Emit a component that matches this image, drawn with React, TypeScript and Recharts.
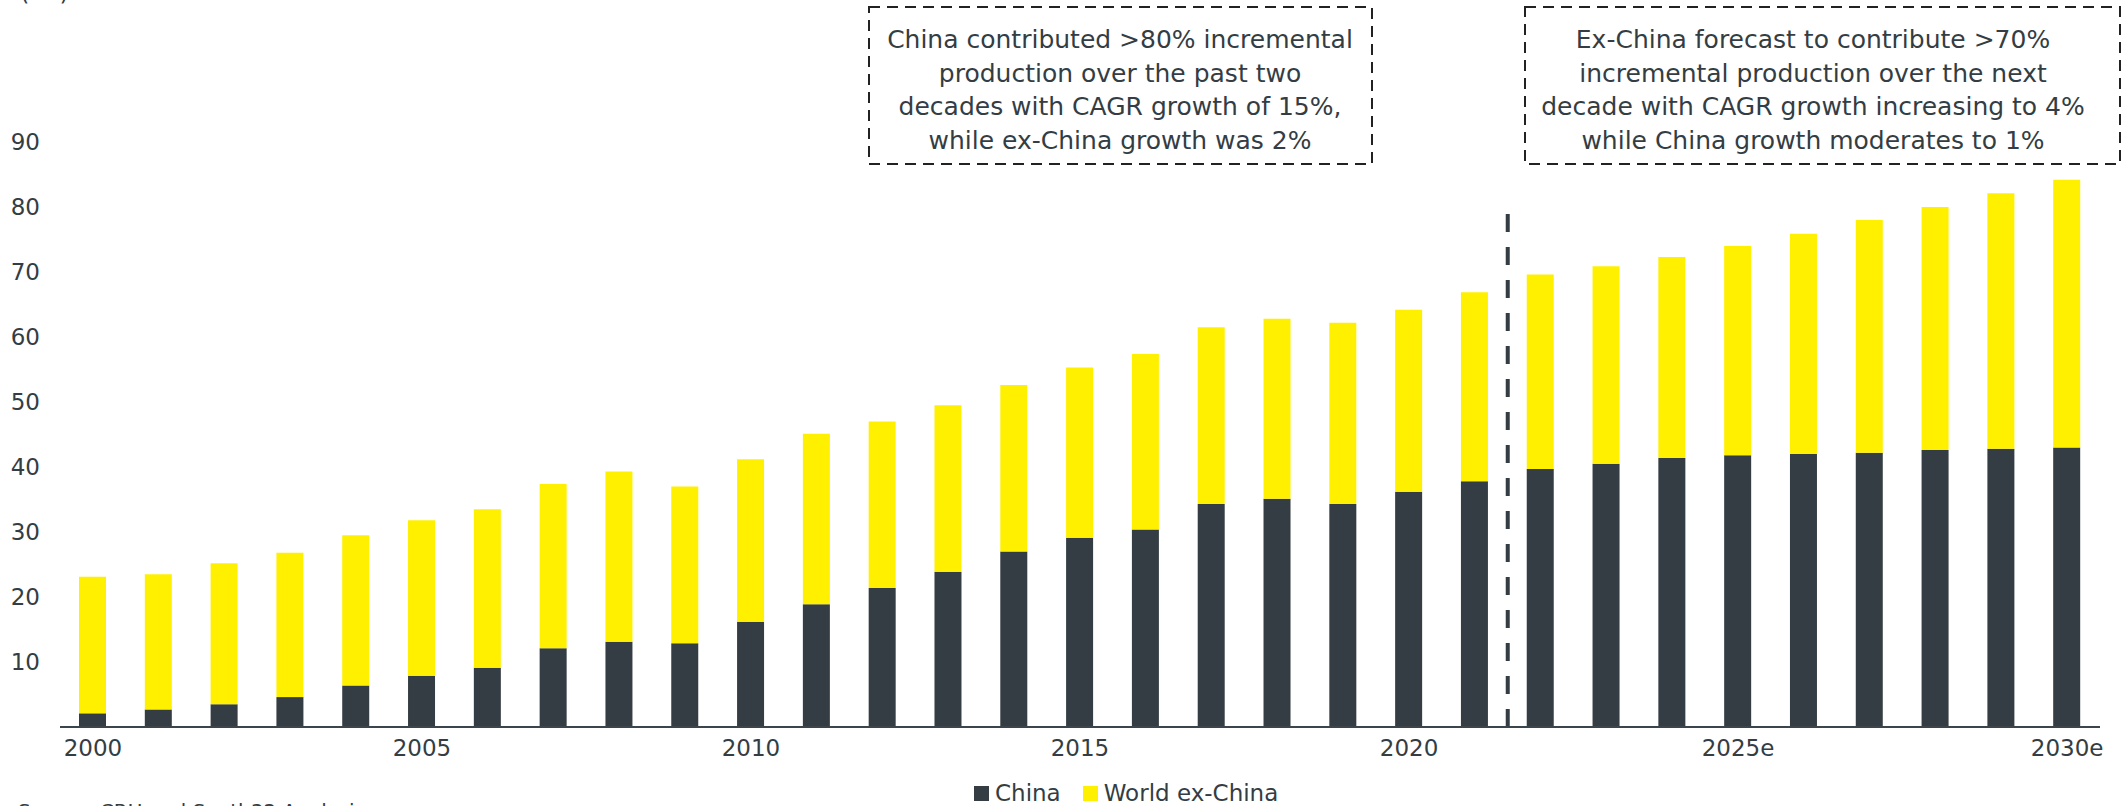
import { Bar, BarChart, Legend, ReferenceLine, XAxis, YAxis } from 'recharts';

const years = [
  '2000', '2001', '2002', '2003', '2004', '2005', '2006', '2007', '2008', '2009',
  '2010', '2011', '2012', '2013', '2014', '2015', '2016', '2017', '2018', '2019',
  '2020', '2021', '2022e', '2023e', '2024e', '2025e', '2026e', '2027e', '2028e', '2029e', '2030e',
];

const china = [
  2.1, 2.7, 3.5, 4.6, 6.4, 7.9, 9.1, 12.1, 13.1, 12.9,
  16.2, 18.9, 21.4, 23.9, 27.0, 29.1, 30.4, 34.3, 35.1, 34.3,
  36.2, 37.8, 39.7, 40.5, 41.4, 41.8, 42.0, 42.2, 42.6, 42.8, 43.0,
];

const exChina = [
  21.0, 20.8, 21.7, 22.2, 23.1, 23.9, 24.4, 25.3, 26.2, 24.1,
  25.0, 26.2, 25.6, 25.6, 25.6, 26.2, 27.0, 27.2, 27.7, 27.9,
  28.0, 29.1, 29.9, 30.4, 30.9, 32.2, 33.9, 35.8, 37.4, 39.3, 41.2,
];

const yTicks = [10, 20, 30, 40, 50, 60, 70, 80, 90];

const noteLeft = [
  'China contributed >80% incremental',
  'production over the past two',
  'decades with CAGR growth of 15%,',
  'while ex-China growth was 2%',
];

const noteRight = [
  'Ex-China forecast to contribute >70%',
  'incremental production over the next',
  'decade with CAGR growth increasing to 4%',
  'while China growth moderates to 1%',
];

const DARK = '#333d43';
const YELLOW = '#fff000';
const FONT = '"DejaVu Sans", sans-serif';

const data = years.map((year, i) => ({ year, idx: i, china: china[i], exChina: exChina[i] }));

function LegendBox() {
  const items = [
    { label: 'China', color: DARK },
    { label: 'World ex-China', color: YELLOW },
  ];
  return (
    <div style={{ display: 'flex', alignItems: 'center', fontFamily: FONT, fontSize: 23, color: DARK }}>
      {items.map((it) => (
        <div key={it.label} style={{ display: 'flex', alignItems: 'center', marginRight: 22 }}>
          <span style={{ width: 15, height: 15, background: it.color, marginRight: 6, display: 'inline-block' }} />
          <span>{it.label}</span>
        </div>
      ))}
    </div>
  );
}

function Note({ lines, x, y, w, h, cx }: { lines: string[]; x: number; y: number; w: number; h: number; cx: number }) {
  return (
    <g>
      <rect x={x} y={y} width={w} height={h} fill="#fff" stroke="#222" strokeWidth={2} strokeDasharray="11 7" />
      {lines.map((l, i) => (
        <text key={i} x={cx} y={48 + i * 33.5} textAnchor="middle" fontFamily={FONT} fontSize={25} fill={DARK}>
          {l}
        </text>
      ))}
    </g>
  );
}

export default function App() {
  return (
    <div style={{ position: 'absolute', left: 0, top: 0, width: 2122, height: 806, overflow: 'hidden', background: '#fff' }}>
      <BarChart width={2122} height={806} data={data} margin={{ top: 142, right: 22, bottom: 49, left: 0 }}>
        <XAxis
          dataKey="year"
          xAxisId="cat"
          interval={4}
          tickLine={false}
          tickSize={6}
          tickMargin={7}
          axisLine={{ stroke: '#3c454b', strokeWidth: 2 }}
          tick={{ fill: DARK, fontSize: 23, fontFamily: FONT }}
          height={30}
        />
        <XAxis xAxisId="num" type="number" dataKey="idx" domain={[-0.5, 30.5]} hide />
        <YAxis
          domain={[0, 90]}
          ticks={yTicks}
          width={60}
          axisLine={false}
          tickLine={false}
          tickSize={8}
          tickMargin={12}
          tick={{ fill: DARK, fontSize: 23, fontFamily: FONT }}
        />
        <Bar dataKey="china" name="China" stackId="a" xAxisId="cat" fill={DARK} barSize={27} isAnimationActive={false} />
        <Bar dataKey="exChina" name="World ex-China" stackId="a" xAxisId="cat" fill={YELLOW} barSize={27} isAnimationActive={false} />
        <ReferenceLine
          xAxisId="num"
          segment={[{ x: 21.5, y: 0 }, { x: 21.5, y: 79.5 }]}
          stroke={DARK}
          strokeWidth={4}
          strokeDasharray="18 15"
        />
        <Legend
          layout="horizontal"
          verticalAlign="middle"
          align="center"
          content={<LegendBox />}
          wrapperStyle={{ position: 'absolute', left: 974, top: 780, width: 'auto', height: 28 }}
        />
      </BarChart>
      <svg width={2122} height={806} style={{ position: 'absolute', left: 0, top: 0, pointerEvents: 'none' }}>
        <text x={20} y={0} fontFamily={FONT} fontSize={24} fill={DARK}>(Mt)</text>
        <Note lines={noteLeft} x={869} y={7} w={503} h={157} cx={1120} />
        <Note lines={noteRight} x={1525} y={7} w={595} h={157} cx={1813} />
        <text x={18} y={818} fontFamily={FONT} fontSize={20} fill={DARK}>Source: CRU and South32 Analysis</text>
      </svg>
    </div>
  );
}
